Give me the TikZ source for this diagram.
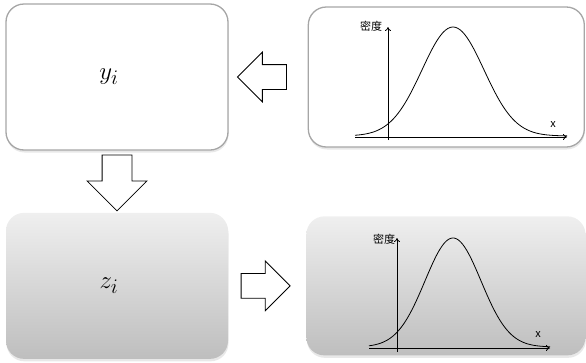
\documentclass[tikz,border=0pt]{standalone}
\usepackage{fontspec}
\newfontfamily\cjk{Noto Sans CJK SC}
\usepackage{xcolor}
\definecolor{Frame}{HTML}{A6A6A6}
\definecolor{ShadeTop}{HTML}{EFEFEF}
\definecolor{ShadeBottom}{HTML}{BEBEBE}
\usetikzlibrary{arrows.meta,positioning,calc,shapes.arrows,shadows}
\begin{document}
\begin{tikzpicture}[x=1pt,y=-1pt,
  box/.style={rounded corners=18pt,minimum width=222pt,minimum height=146pt,drop shadow={opacity=0.18,shadow xshift=0.5pt,shadow yshift=-2.5pt}},
  plainbox/.style={box,draw=Frame,line width=1.3pt,fill=white},
  shadedbox/.style={box,top color=ShadeTop,bottom color=ShadeBottom},
  blockarrow/.style={single arrow,draw,fill=white,line width=0.8pt,minimum height=49pt,inner sep=12pt,single arrow head extend=12.5pt},
  lbl/.style={font=\cjk\fontsize{11}{13}\selectfont,inner sep=0pt},
  mathlbl/.style={font=\fontsize{30}{34}\selectfont,xshift=-8pt},
  axis/.style={line width=0.8pt,-{To[length=4pt,width=6pt]}},
  curve/.style={line width=0.8pt,smooth,samples=90}]
\useasboundingbox (0,0) rectangle (586,362);
\node[plainbox] (y) at (117,77) {};
\node[mathlbl] (ty) at (y) {$y_i$};
\node[plainbox,minimum width=276pt,minimum height=140pt,right=79pt of y] (fy) {};
\node[shadedbox,below=62pt of y] (z) {};
\node[mathlbl] (tz) at (z) {$z_i$};
\node[shadedbox,minimum width=279pt,minimum height=139pt,right=78pt of z] (fz) {};
% block arrows
\node[blockarrow,shape border rotate=180] (a1) at ($(y.east)!0.5!(fy.west)$) {};
\node[blockarrow,shape border rotate=270,inner sep=14.5pt,single arrow head extend=15pt,minimum height=56pt] (a2) at ($(y.south)!0.4!(z.north)$) {};
\node[blockarrow] (a3) at ($(z.east)!0.4!(fz.west)$) {};
% density of y
\draw[axis] (355,137) -- (567,137);
\draw[axis] (388,140) -- (388,27);
\draw[curve,domain=355:567] plot (\x,{136-109*exp(-0.5*((\x-453)/31)^2)});
\node[lbl] (dy) at (371,26) {密度};
\node[lbl] (xy) at (553,125) {x};
% density of z
\draw[axis] (369,348) -- (550,348);
\draw[axis] (397,352) -- (397,238);
\draw[curve,domain=369:550] plot (\x,{347-109*exp(-0.5*((\x-453)/28)^2)});
\node[lbl] (dz) at (384,239) {密度};
\node[lbl] (xz) at (538,335) {x};
\end{tikzpicture}
\end{document}
